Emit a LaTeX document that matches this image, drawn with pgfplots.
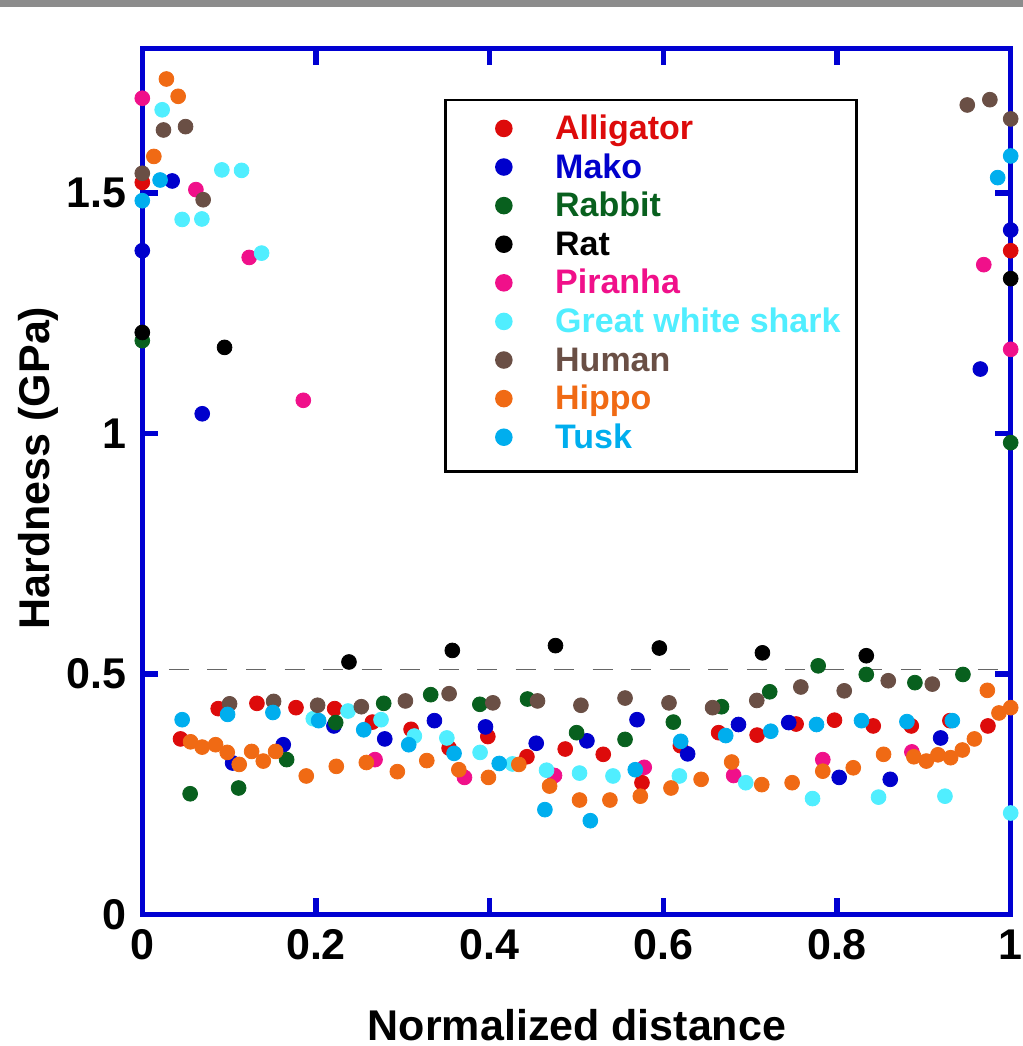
\documentclass[border=0pt]{standalone}
\usepackage{fontspec}
\setmainfont{Liberation Sans}
\usepackage{pgfplots}
\pgfplotsset{compat=1.18}
\definecolor{axisblue}{HTML}{0000D2}
\definecolor{cAlli}{HTML}{DD0B0B}
\definecolor{cMako}{HTML}{0000CC}
\definecolor{cRabbit}{HTML}{08601E}
\definecolor{cRat}{HTML}{000000}
\definecolor{cPir}{HTML}{F0108A}
\definecolor{cGWS}{HTML}{50EEFF}
\definecolor{cHuman}{HTML}{6A4F45}
\definecolor{cHippo}{HTML}{F06A14}
\definecolor{cTusk}{HTML}{00AEEE}
\definecolor{barGray}{HTML}{8C8C8C}
\begin{document}
\begin{tikzpicture}
\useasboundingbox (0,0) rectangle (511.5pt,523pt);
\fill[barGray] (0,519.5pt) rectangle (511.5pt,523pt);
\begin{axis}[
  at={(71.15pt,65.75pt)}, anchor=south west,
  scale only axis, width=434.2pt, height=432.9pt,
  xmin=0, xmax=1, ymin=0, ymax=1.8,
  clip=false,
  axis line style={draw=axisblue, line width=2.7pt},
  tick style={draw=axisblue, line width=2.7pt},
  major tick length=8pt, tick align=inside,
  xtick={0,0.2,0.4,0.6,0.8,1}, xticklabels={0,0.2,0.4,0.6,0.8,1},
  ytick={0,0.5,1,1.5}, yticklabels={0,0.5,1,1.5},
  /pgf/number format/assume math mode=true,
  ticklabel style={font=\fontsize{21.5pt}{25pt}\selectfont\bfseries},
  yticklabel style={xshift=-4.5pt},
  xticklabel style={yshift=-4pt},
  xlabel={Normalized distance}, ylabel={Hardness (GPa)},
  label style={font=\fontsize{21.5pt}{25pt}\selectfont\bfseries, inner sep=0pt},
  xlabel style={at={(axis description cs:0.5006,-0.145)}, anchor=base, text depth=0pt},
  ylabel style={at={(axis description cs:-0.1063,0.5157)}, anchor=base},
  legend style={at={(axis description cs:0.3476,0.9424)}, anchor=north west,
    draw=black, line width=1.35pt, inner xsep=8pt, inner ysep=7.5pt,
    row sep=2.8pt, column sep=15.5pt,
    font=\fontsize{17pt}{20pt}\selectfont\bfseries,
    nodes={inner sep=0pt, text height=12.3pt, text depth=4.2pt}},
  legend cell align=left,
  legend image code/.code={\path (0pt,0pt) (30pt,0pt); \draw[#1] plot coordinates {(20.5pt,1.5pt)};},
  every axis plot/.append style={only marks, mark=*, mark size=3.7pt, mark options={draw=none}},
]
\addplot[forget plot, no marks, sharp plot, draw=black!60, line width=0.7pt, dash pattern=on 10pt off 9.26pt] coordinates {(0.0307,0.509) (0.9906,0.509)};

\addplot[fill=cAlli, color=cAlli] coordinates {
(0,1.522) (1,1.380) (0.044,0.365) (0.0874,0.428) (0.132,0.439) (0.177,0.430) (0.2215,0.428) (0.2649,0.400) (0.3095,0.385) (0.3533,0.346) (0.3979,0.370) (0.4429,0.328) (0.487,0.344) (0.5308,0.333) (0.5754,0.274) (0.6196,0.351) (0.6637,0.378) (0.708,0.373) (0.7529,0.396) (0.7971,0.404) (0.8417,0.392) (0.8855,0.392) (0.93,0.403) (0.9738,0.392)};
\addlegendentry{\textcolor{cAlli}{Alligator}}

\addplot[color=cMako] coordinates {
(0,1.380) (0.0344,1.525) (0.069,1.041) (1,1.423) (0.965,1.134) (0.104,0.315) (0.1623,0.353) (0.2207,0.392) (0.2792,0.365) (0.3364,0.403) (0.3952,0.390) (0.4536,0.356) (0.512,0.361) (0.5697,0.405) (0.628,0.334) (0.6865,0.395) (0.7444,0.399) (0.8025,0.285) (0.8613,0.281) (0.9193,0.367)};
\addlegendentry{\textcolor{cMako}{Mako}}

\addplot[color=cRabbit] coordinates {
(0,1.193) (1,0.981) (0.0551,0.251) (0.1109,0.263) (0.1662,0.322) (0.2227,0.399) (0.278,0.439) (0.3321,0.457) (0.3887,0.437) (0.4436,0.448) (0.5001,0.378) (0.5559,0.364) (0.6115,0.400) (0.667,0.432) (0.7225,0.463) (0.7783,0.517) (0.8337,0.499) (0.8897,0.482) (0.945,0.499)};
\addlegendentry{\textcolor{cRabbit}{Rabbit}}

\addplot[color=cRat] coordinates {
(0,1.210) (0.0947,1.179) (0.238,0.525) (0.357,0.549) (0.4758,0.559) (0.5954,0.554) (0.7141,0.544) (0.8337,0.538) (1,1.322)};
\addlegendentry{\textcolor{cRat}{Rat}}

\addplot[color=cPir] coordinates {
(0,1.697) (0.0617,1.507) (0.1231,1.366) (0.1854,1.069) (0.268,0.322) (0.371,0.285) (0.4747,0.289) (0.578,0.306) (0.681,0.289) (0.7836,0.322) (0.8862,0.338) (0.969,1.351) (1,1.175)};
\addlegendentry{\textcolor{cPir}{Piranha}}

\addplot[color=cGWS] coordinates {
(0.0229,1.673) (0.0459,1.445) (0.0686,1.446) (0.0916,1.548) (0.1143,1.547) (0.1374,1.375) (0.1969,0.407) (0.2369,0.423) (0.2749,0.405) (0.3133,0.371) (0.3507,0.367) (0.389,0.337) (0.4263,0.313) (0.4655,0.300) (0.5035,0.294) (0.542,0.288) (0.6185,0.288) (0.6949,0.274) (0.7718,0.241) (0.8478,0.244) (0.9243,0.246) (1,0.211)};
\addlegendentry{\textcolor{cGWS}{Great white shark}}

\addplot[color=cHuman] coordinates {
(0,1.541) (0.0244,1.631) (0.0498,1.638) (0.0701,1.486) (0.950,1.683) (0.976,1.694) (1,1.654) (0.1005,0.438) (0.1512,0.443) (0.2019,0.435) (0.2522,0.432) (0.303,0.444) (0.3533,0.459) (0.4037,0.440) (0.4551,0.444) (0.5051,0.435) (0.5559,0.450) (0.6065,0.440) (0.6567,0.430) (0.7076,0.445) (0.7583,0.473) (0.8083,0.465) (0.859,0.486) (0.9097,0.479)};
\addlegendentry{\textcolor{cHuman}{Human}}

\addplot[color=cHippo] coordinates {
(0.0133,1.576) (0.0278,1.737) (0.0413,1.701) (0.0556,0.359) (0.0689,0.348) (0.0844,0.353) (0.0978,0.337) (0.1116,0.312) (0.1259,0.339) (0.1393,0.319) (0.1535,0.339) (0.1888,0.288) (0.2234,0.308) (0.258,0.316) (0.2937,0.297) (0.3276,0.320) (0.3645,0.301) (0.3986,0.285) (0.4336,0.312) (0.469,0.267) (0.5035,0.238) (0.5385,0.238) (0.5735,0.246) (0.6088,0.263) (0.6435,0.281) (0.6787,0.317) (0.7133,0.270) (0.7483,0.274) (0.7836,0.298) (0.8187,0.305) (0.8536,0.333) (0.8885,0.328) (0.9028,0.319) (0.9162,0.332) (0.9308,0.326) (0.9443,0.342) (0.9582,0.365) (0.9731,0.466) (0.9865,0.419) (1,0.430)};
\addlegendentry{\textcolor{cHippo}{Hippo}}

\addplot[color=cTusk] coordinates {
(0,1.484) (0.0205,1.527) (1,1.577) (0.985,1.532) (0.0459,0.405) (0.0982,0.416) (0.1504,0.420) (0.2031,0.403) (0.255,0.384) (0.3068,0.353) (0.359,0.335) (0.411,0.314) (0.4636,0.218) (0.5159,0.195) (0.5677,0.301) (0.620,0.360) (0.6718,0.372) (0.7237,0.381) (0.7764,0.395) (0.8282,0.403) (0.8805,0.401) (0.9328,0.403)};
\addlegendentry{\textcolor{cTusk}{Tusk}}
\end{axis}
\end{tikzpicture}
\end{document}
